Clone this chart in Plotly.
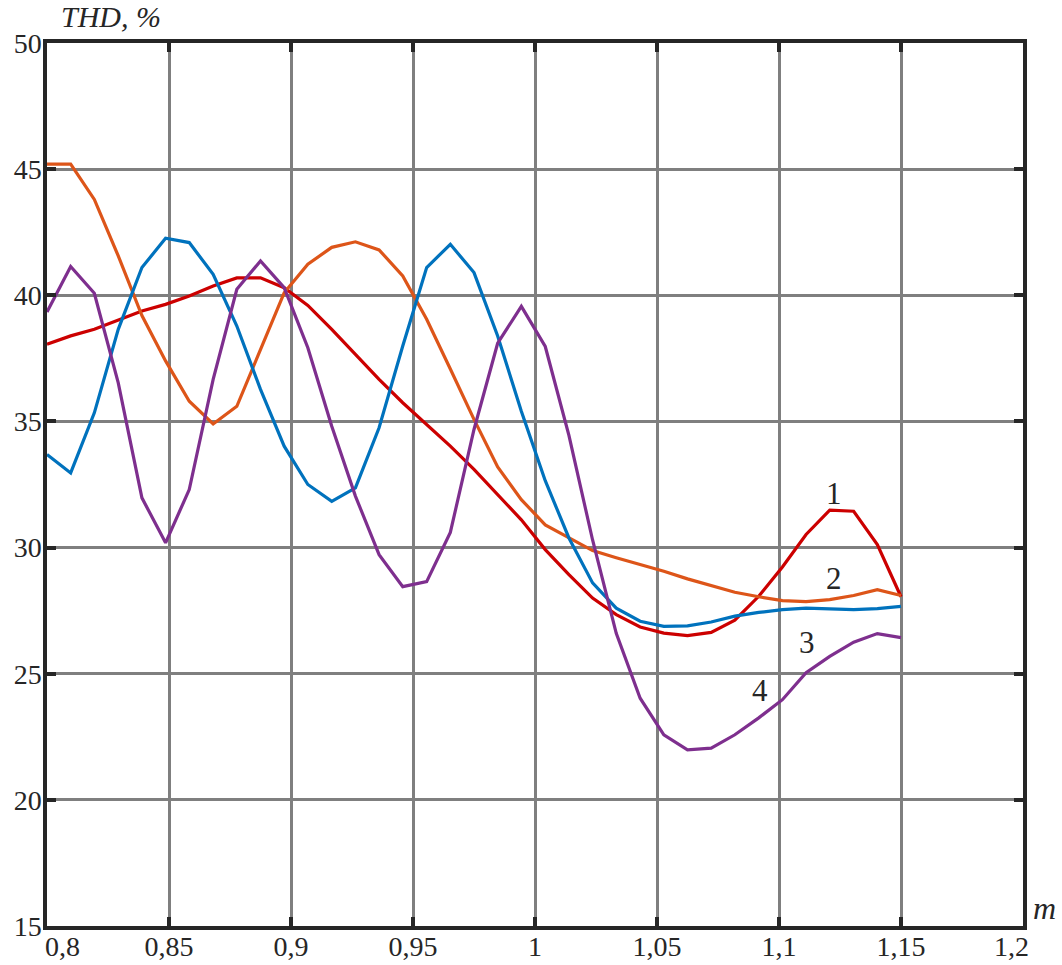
import plotly.graph_objects as go

# modulation index samples
m = [0.8000, 0.8097, 0.8194, 0.8292, 0.8389, 0.8486, 0.8583, 0.8681, 0.8778,
     0.8875, 0.8972, 0.9069, 0.9167, 0.9264, 0.9361, 0.9458, 0.9556, 0.9653,
     0.9750, 0.9847, 0.9944, 1.0042, 1.0139, 1.0236, 1.0333, 1.0431, 1.0528,
     1.0625, 1.0722, 1.0819, 1.0917, 1.1014, 1.1111, 1.1208, 1.1306, 1.1403,
     1.1500]

# THD, % for the four cases
thd_1 = [38.06, 38.39, 38.65, 39.02, 39.38, 39.64, 39.97, 40.37, 40.69, 40.69,
         40.30, 39.60, 38.65, 37.66, 36.67, 35.74, 34.88, 34.02, 33.10, 32.10,
         31.10, 29.92, 28.93, 28.00, 27.34, 26.85, 26.61, 26.51, 26.64, 27.12,
         28.07, 29.23, 30.52, 31.48, 31.44, 30.12, 28.05]
thd_2 = [45.20, 45.20, 43.80, 41.56, 39.20, 37.40, 35.80, 34.90, 35.60, 37.86,
         40.10, 41.23, 41.90, 42.12, 41.80, 40.77, 39.05, 37.08, 35.08, 33.20,
         31.90, 30.90, 30.38, 29.88, 29.60, 29.33, 29.06, 28.76, 28.49, 28.23,
         28.05, 27.90, 27.86, 27.94, 28.10, 28.33, 28.10]
thd_3 = [33.69, 32.96, 35.34, 38.65, 41.10, 42.26, 42.09, 40.83, 38.78, 36.27,
         34.02, 32.50, 31.83, 32.37, 34.75, 37.99, 41.10, 42.02, 40.90, 38.39,
         35.40, 32.65, 30.38, 28.60, 27.60, 27.08, 26.88, 26.90, 27.05, 27.28,
         27.43, 27.54, 27.60, 27.57, 27.54, 27.58, 27.67]
thd_4 = [39.34, 41.14, 40.08, 36.53, 31.97, 30.19, 32.30, 36.67, 40.24, 41.36,
         40.30, 37.92, 34.81, 32.04, 29.72, 28.45, 28.65, 30.60, 34.68, 38.10,
         39.56, 37.97, 34.45, 30.30, 26.60, 24.03, 22.58, 21.98, 22.05, 22.58,
         23.25, 23.97, 25.04, 25.69, 26.25, 26.59, 26.43]

series = [thd_1, thd_2, thd_3, thd_4]
colors = ["#CC0000", "#DD5519", "#0072BD", "#7E2F8E"]

# curve numbers and where they sit
curve_labels = ["1", "2", "3", "4"]
label_x = [1.1225, 1.1225, 1.1115, 1.0922]
label_y = [32.13, 28.78, 26.23, 24.33]

x_ticks = [0.8, 0.85, 0.9, 0.95, 1.0, 1.05, 1.1, 1.15, 1.2]
x_tick_text = ["0,8", "0,85", "0,9", "0,95", "1", "1,05", "1,1", "1,15", "1,2"]
y_ticks = [15, 20, 25, 30, 35, 40, 45, 50]

FONT = "Liberation Serif"
INK = "#262626"
TICK_SIZE = 28

fig = go.Figure()
for ys, c in zip(series, colors):
    fig.add_trace(go.Scatter(x=m, y=ys, mode="lines",
                             line=dict(color=c, width=3.2), showlegend=False))

for t, lx, ly in zip(curve_labels, label_x, label_y):
    fig.add_annotation(x=lx, y=ly, text=t, showarrow=False,
                       font=dict(family=FONT, size=31, color=INK))

# the two end tick labels are kept inside the frame width, so they are
# drawn as annotations and left blank on the axis itself
inner_text = [""] + x_tick_text[1:-1] + [""]
fig.add_annotation(xref="paper", yref="paper", x=0.0, y=-0.0235,
                   xanchor="left", yanchor="middle", xshift=-4,
                   text=x_tick_text[0], showarrow=False,
                   font=dict(family=FONT, size=TICK_SIZE, color=INK))
fig.add_annotation(xref="paper", yref="paper", x=1.0, y=-0.0235,
                   xanchor="right", yanchor="middle", xshift=8,
                   text=x_tick_text[-1], showarrow=False,
                   font=dict(family=FONT, size=TICK_SIZE, color=INK))

fig.add_annotation(xref="paper", yref="paper", x=0.012, y=1.030,
                   xanchor="left", yanchor="middle", text="THD, %",
                   showarrow=False,
                   font=dict(family=FONT, size=30, color=INK, style="italic"))
fig.add_annotation(xref="paper", yref="paper", x=1.008, y=0.020,
                   xanchor="left", yanchor="middle", text="m",
                   showarrow=False,
                   font=dict(family=FONT, size=32, color=INK, style="italic"))

axis_common = dict(
    showline=True, linecolor=INK, linewidth=3.5, mirror="ticks",
    showgrid=True, gridcolor="#7F7F7F", gridwidth=3.2,
    ticks="inside", ticklen=9, tickwidth=3.5, tickcolor=INK,
    zeroline=False, automargin=False,
    tickfont=dict(family=FONT, size=TICK_SIZE, color=INK),
)

fig.update_xaxes(range=[0.8, 1.2], tickvals=x_ticks, ticktext=inner_text,
                 ticklabelstandoff=-7, **axis_common)
fig.update_yaxes(range=[15, 50], tickvals=y_ticks, ticklabelstandoff=-4,
                 **axis_common)

fig.update_layout(
    width=1062, height=965,
    margin=dict(l=47, r=39, t=43, b=39),
    paper_bgcolor="white", plot_bgcolor="white",
)

fig.write_html("out.html")
